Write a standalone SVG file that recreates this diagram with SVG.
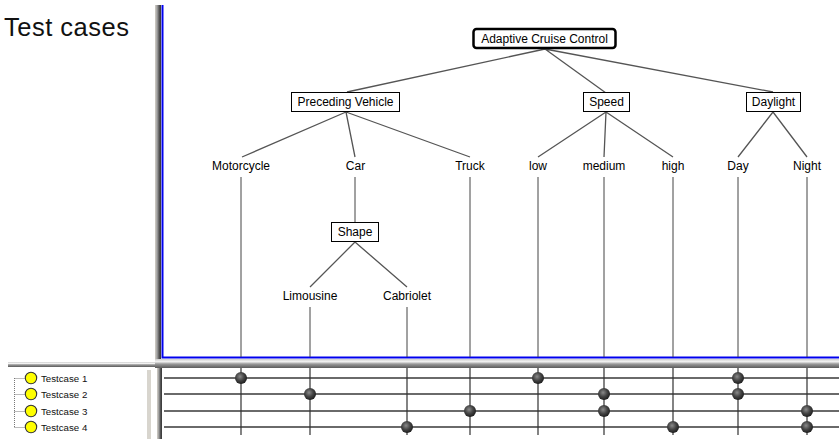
<svg xmlns="http://www.w3.org/2000/svg" width="839" height="439" viewBox="0 0 839 439">
  <defs>
    <radialGradient id="ball" cx="0.42" cy="0.38" r="0.62">
      <stop offset="0" stop-color="#8a8a8a"/>
      <stop offset="0.55" stop-color="#444"/>
      <stop offset="1" stop-color="#1e1e1e"/>
    </radialGradient>
    <linearGradient id="hsplit" x1="0" y1="0" x2="0" y2="1">
      <stop offset="0" stop-color="#cfcfcf"/>
      <stop offset="0.3" stop-color="#f2f2f2"/>
      <stop offset="0.55" stop-color="#9a9a9a"/>
      <stop offset="1" stop-color="#5a5a5a"/>
    </linearGradient>
    <linearGradient id="vsplit" x1="0" y1="0" x2="1" y2="0">
      <stop offset="0" stop-color="#d4d0c8"/>
      <stop offset="0.35" stop-color="#a0a0a0"/>
      <stop offset="0.7" stop-color="#555"/>
      <stop offset="1" stop-color="#333"/>
    </linearGradient>
  </defs>
  <style>
    text { font-family: "Liberation Sans", Arial, sans-serif; font-size: 12px; fill: #000; }
    .title { font-size: 25.5px; letter-spacing: 0.5px; fill: #111; }
    .tc { font-size: 9.7px; fill: #111; }
    .box { fill: #fff; stroke: #000; stroke-width: 1; }
    .root { fill: #fff; stroke: #000; stroke-width: 2.5; }
    .edge { stroke: #555; stroke-width: 1.3; fill: none; }
    .drop { stroke: #444; stroke-width: 1; fill: none; }
    .col { stroke: #333; stroke-width: 1.2; fill: none; }
    .row { stroke: #3a3a3a; stroke-width: 1.6; fill: none; }
    .dot { fill: url(#ball); }
    .bulb { fill: #ffff00; stroke: #333; stroke-width: 1.1; }
    .dots { stroke: #777; stroke-width: 1; stroke-dasharray: 1 1; fill: none; }
  </style>

  <rect width="839" height="439" fill="#fff"/>

  <!-- panel heading -->
  <text class="title" x="4" y="36">Test cases</text>

  <!-- splitters and frame -->
  <g id="frame">
    <rect x="155" y="5" width="6" height="360" fill="url(#vsplit)"/>
    <rect x="157" y="360" width="5" height="79" fill="url(#vsplit)"/>
    <rect x="8" y="362" width="150" height="5" fill="url(#hsplit)"/>
    <rect x="155" y="359" width="684" height="9" fill="url(#hsplit)"/>
    <rect x="147" y="370" width="4" height="69" fill="#d8d5ce"/>
    <path d="M162.5 5 V357.5 H839" stroke="#0000ee" stroke-width="2" fill="none"/>
  </g>

  <!-- connectors of the classification tree -->
  <g id="connectors">
    <path class="edge" d="M545 49 L347 92 M545 49 L606 93 M545 49 L773 92"/>
    <path class="edge" d="M346 112 L242 157 M346 112 L355 157 M346 112 L470 157"/>
    <path class="edge" d="M606 112 L538 157 M606 112 L604 157 M606 112 L673 157"/>
    <path class="edge" d="M773 112 L738 157 M773 112 L807 157"/>
    <path class="edge" d="M355 242 L310 287 M355 242 L407 287"/>
    <path class="drop" d="M355 177 V222"/>
    <path class="drop" d="M241 177 V357 M470 177 V357 M538 177 V357 M604 177 V357 M673 177 V357 M738 177 V357 M807 177 V357 M310 307 V357 M407 307 V357"/>
  </g>

  <!-- tree nodes -->
  <g id="node-acc">
    <rect class="root" x="473.5" y="29" width="142" height="19" rx="3"/>
    <text x="544.5" y="42.5" text-anchor="middle">Adaptive Cruise Control</text>
  </g>
  <g id="node-preceding-vehicle">
    <rect class="box" x="291.5" y="92.5" width="108" height="19"/>
    <text x="345.5" y="106" text-anchor="middle">Preceding Vehicle</text>
  </g>
  <g id="node-speed">
    <rect class="box" x="583.5" y="92.5" width="46" height="19"/>
    <text x="606.5" y="106" text-anchor="middle">Speed</text>
  </g>
  <g id="node-daylight">
    <rect class="box" x="746.5" y="92.5" width="54" height="19"/>
    <text x="773.5" y="106" text-anchor="middle">Daylight</text>
  </g>
  <g id="node-shape">
    <rect class="box" x="331.5" y="222.5" width="47" height="19"/>
    <text x="355" y="236" text-anchor="middle">Shape</text>
  </g>
  <g id="leaf-motorcycle"><text x="241" y="170" text-anchor="middle">Motorcycle</text></g>
  <g id="leaf-car"><text x="355.5" y="170" text-anchor="middle">Car</text></g>
  <g id="leaf-truck"><text x="470" y="170" text-anchor="middle">Truck</text></g>
  <g id="leaf-low"><text x="538" y="170" text-anchor="middle">low</text></g>
  <g id="leaf-medium"><text x="604" y="170" text-anchor="middle">medium</text></g>
  <g id="leaf-high"><text x="673" y="170" text-anchor="middle">high</text></g>
  <g id="leaf-day"><text x="738" y="170" text-anchor="middle">Day</text></g>
  <g id="leaf-night"><text x="807" y="170" text-anchor="middle">Night</text></g>
  <g id="leaf-limousine"><text x="310" y="299.5" text-anchor="middle">Limousine</text></g>
  <g id="leaf-cabriolet"><text x="407" y="299.5" text-anchor="middle">Cabriolet</text></g>

  <!-- test case list -->
  <g id="testcase-list">
    <path class="dots" d="M14.5 378 V427.5 M14.5 378.5 H25 M14.5 394.5 H25 M14.5 411.5 H25 M14.5 427.5 H25"/>
    <circle class="bulb" cx="31" cy="378" r="5.7"/>
    <circle class="bulb" cx="31" cy="394" r="5.7"/>
    <circle class="bulb" cx="31" cy="411" r="5.7"/>
    <circle class="bulb" cx="31" cy="427" r="5.7"/>
    <text class="tc" x="41" y="381.5">Testcase 1</text>
    <text class="tc" x="41" y="397.5">Testcase 2</text>
    <text class="tc" x="41" y="414.5">Testcase 3</text>
    <text class="tc" x="41" y="430.5">Testcase 4</text>
  </g>

  <!-- combination table -->
  <g id="testcase-grid">
    <path class="row" d="M164 378 H839 M164 394 H839 M164 411 H839 M164 427 H839"/>
    <path class="col" d="M241 368 V435 M310 368 V435 M407 368 V435 M470 368 V435 M538 368 V435 M604 368 V435 M673 368 V435 M738 368 V435 M807 368 V435"/>
    <circle class="dot" cx="241" cy="378" r="6"/>
    <circle class="dot" cx="538" cy="378" r="6"/>
    <circle class="dot" cx="738" cy="378" r="6"/>
    <circle class="dot" cx="310" cy="394" r="6"/>
    <circle class="dot" cx="604" cy="394" r="6"/>
    <circle class="dot" cx="738" cy="394" r="6"/>
    <circle class="dot" cx="470" cy="411" r="6"/>
    <circle class="dot" cx="604" cy="411" r="6"/>
    <circle class="dot" cx="807" cy="411" r="6"/>
    <circle class="dot" cx="407" cy="427" r="6"/>
    <circle class="dot" cx="673" cy="427" r="6"/>
    <circle class="dot" cx="807" cy="427" r="6"/>
  </g>
</svg>
